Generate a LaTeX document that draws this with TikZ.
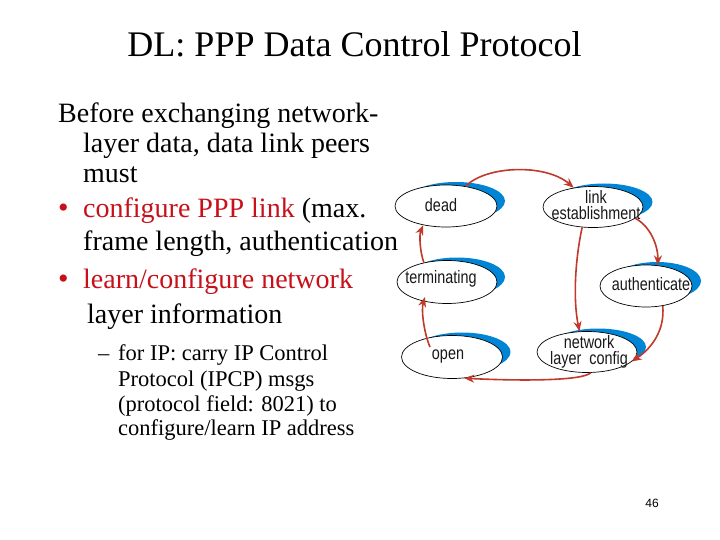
\documentclass[tikz,border=0pt]{standalone}
\usepackage{fontspec}
\setmainfont{Liberation Serif}
\newfontfamily\labfont[FakeStretch=0.8]{Liberation Sans}
\newfontfamily\numfont{Liberation Sans}
\usetikzlibrary{shapes.geometric,arrows.meta}
\definecolor{txtred}{RGB}{200,16,26}
\definecolor{arrred}{RGB}{192,57,43}
\definecolor{sblue}{RGB}{0,132,214}
\begin{document}
\begin{tikzpicture}[x=1pt,y=-1pt,
 state/.style={ellipse, draw=black, line width=0.7pt, fill=white, inner sep=0pt},
 shade/.style={fill=sblue},
 lbl/.style={font={\labfont\fontsize{18}{16.5}\selectfont}, text=black!90, align=center, inner sep=0pt},
 body/.style={anchor=base west, inner sep=0pt, font=\fontsize{28}{30}\selectfont},
 sub/.style={anchor=base west, inner sep=0pt, font=\fontsize{22.5}{24}\selectfont},
 bul/.style={anchor=base west, inner sep=0pt, font=\fontsize{30}{30}\selectfont, text=txtred},
 arr/.style={draw=arrred, line width=1.6pt, -{Stealth[length=10pt,width=8pt]}}
]
\useasboundingbox[fill=white] (0,0) rectangle (720,540);

% title
\node[anchor=base, inner sep=0pt, font=\fontsize{36}{40}\selectfont] (title) at (354.5,56.7) {DL: PPP Data Control Protocol};

% body text
\node[body] (b1) at (58,123) {Before exchanging network-};
\node[body] (b2) at (83,153) {layer data, data link peers};
\node[body] (b3) at (83,183) {must};
\node[bul] (u1) at (58,218) {\textbullet};
\node[body] (b4) at (83,218) {\textcolor{txtred}{configure PPP link} (max.};
\node[body] (b5) at (83,251) {frame length, authentication};
\node[bul] (u2) at (58,288) {\textbullet};
\node[body, text=txtred] (b6) at (83,288) {learn/configure network};
\node[body] (b7) at (87,323) {layer information};
\node[sub] (d1) at (98,360) {–};
\node[sub] (s1) at (118,360) {for IP: carry IP Control};
\node[sub] (s2) at (118,386) {Protocol (IPCP) msgs};
\node[sub] (s3) at (118,411) {(protocol field: 8021) to};
\node[sub] (s4) at (118,435) {configure/learn IP address};

% page number
\node[inner sep=0pt, font={\numfont\fontsize{12}{14}\selectfont}] (pg) at (652,503) {46};

% blue crescents (shadows)
\fill[shade] (456,201) ellipse [x radius=49, y radius=19];
\fill[shade] (604,202) ellipse [x radius=48.5, y radius=18.5];
\fill[shade] (457,277) ellipse [x radius=48, y radius=19.5];
\fill[shade] (657,281) ellipse [x radius=44, y radius=19];
\fill[shade] (462,352) ellipse [x radius=48.5, y radius=19.5];
\fill[shade] (598,347) ellipse [x radius=48, y radius=18.5];

% states
\node[state, minimum width=102pt, minimum height=42pt] (dead) at (446,206) {};
\node[state, minimum width=100pt, minimum height=41pt] (link) at (593,207) {};
\node[state, minimum width=100pt, minimum height=43pt] (term) at (447,282) {};
\node[state, minimum width=92pt, minimum height=42pt] (auth) at (646,286) {};
\node[state, minimum width=101pt, minimum height=43pt] (open) at (452,357) {};
\node[state, minimum width=100pt, minimum height=41pt] (net) at (587,352) {};

\node[lbl] (ldead) at ([xshift=-5pt,yshift=1pt]dead.center) {dead};
\node[lbl] (llink) at ([xshift=3pt,yshift=2pt]link.center) {link\\establishment};
\node[lbl] (lterm) at ([xshift=-6pt,yshift=3pt]term.center) {terminating};
\node[lbl] (lauth) at ([xshift=5pt,yshift=2pt]auth.center) {authenticate};
\node[lbl] (lopen) at ([xshift=-4pt]open.center) {open};
\node[lbl] (lnet) at ([xshift=2pt]net.center) {network\\layer\ \ config};

% transitions
\draw[arr] (dead.45) .. controls (485,166) and (545,163) .. (link.135);
\draw[arr] (link.-15) .. controls (650,226) and (658,245) .. (auth.60);
\draw[arr] (link.-118) .. controls (575,260) and (573,300) .. (net.110);
\draw[arr] (auth.-50) .. controls (665,330) and (652,348) .. (net.-12);
\draw[arr] (net.-80) .. controls (582,381) and (520,381) .. (open.-60);
\draw[arr] ([xshift=-22pt,yshift=10pt]open.center) .. controls (424,333) and (421,310) .. ([xshift=-22pt,yshift=-15pt]term.center);
\draw[arr] (term.140) .. controls (420,252) and (419,235) .. (dead.-140);
\end{tikzpicture}
\end{document}
